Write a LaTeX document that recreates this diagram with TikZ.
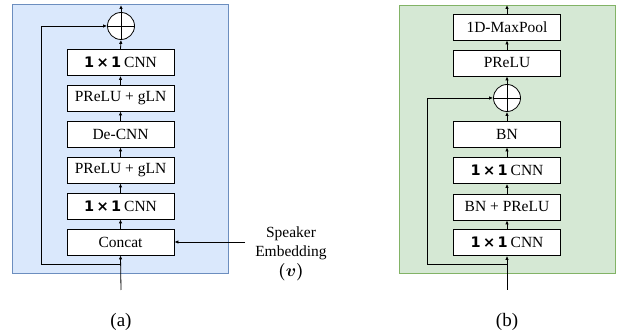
\documentclass[tikz,border=0pt]{standalone}
\usepackage{amsmath}
\usepackage{bm}
\usepackage{fontspec}
\setmainfont{Liberation Serif}
\newfontfamily\dejavu{DejaVu Sans}
\usetikzlibrary{arrows.meta, calc}
\definecolor{panelA}{RGB}{218,232,252}
\definecolor{panelAline}{RGB}{108,142,191}
\definecolor{panelB}{RGB}{213,232,212}
\definecolor{panelBline}{RGB}{130,179,102}
\newcommand{\onebyone}{{\dejavu\bfseries\fontsize{14.5}{16}\selectfont 1\,×\,1}}

\begin{document}
\begin{tikzpicture}[x=1pt, y=-1pt,
    block/.style={draw, fill=white, line width=0.8pt, minimum width=107pt, minimum height=26pt, inner sep=0pt, font=\fontsize{15.5}{18}\selectfont},
    adder/.style={draw, fill=white, circle, line width=0.8pt, minimum size=27pt, inner sep=0pt},
    link/.style={->, line width=0.8pt},
    >={Latex[length=4pt,width=3.5pt]}]
\useasboundingbox (0,0) rectangle (625,336);

% panel (a)
\fill[panelA, draw=panelAline, line width=0.8pt] (12,4) rectangle (228,273);
\node(suma)[adder] at (121,26) {};
\draw[line width=0.8pt] (suma.north) -- (suma.south) (suma.west) -- (suma.east);
\node(cnnTopA)[block] at (120.5,62.5) {\onebyone\hspace{3pt}CNN};
\node(actTopA)[block] at (120.5,98) {PReLU + gLN};
\node(decnn)[block] at (120.5,134) {De-CNN};
\node(actBotA)[block] at (120.5,170) {PReLU + gLN};
\node(cnnBotA)[block] at (120.5,206) {\onebyone\hspace{3pt}CNN};
\node(concat)[block] at (120.5,242) {Concat};
\coordinate (ina) at (121,290);
\coordinate (skipa) at (121,264);
\coordinate (outa) at (121,5);
\coordinate (spk) at (245,242);
\node(spklabel)[align=center, anchor=north, font=\fontsize{15.5}{19}\selectfont] at (291,223) {Speaker\\Embedding\\[1pt]{\fontsize{17}{19}\selectfont$\bm{(v)}$}};

\draw[link] (ina) -- (concat.south);
\draw[link] (skipa) -- ++(-80,0) |- (suma.west);
\draw[link] (concat.north) -- (cnnBotA.south);
\draw[link] (cnnBotA.north) -- (actBotA.south);
\draw[link] (actBotA.north) -- (decnn.south);
\draw[link] (decnn.north) -- (actTopA.south);
\draw[link] (actTopA.north) -- (cnnTopA.south);
\draw[link] (cnnTopA.north) -- (suma.south);
\draw[link] (suma.north) -- (outa);
\draw[link] (spk) -- (concat.east);

% panel (b)
\fill[panelB, draw=panelBline, line width=0.8pt] (399,5) rectangle (615,273);
\node(pool)[block] at (507,27) {1D-MaxPool};
\node(prelu)[block] at (507,63) {PReLU};
\node(sumb)[adder] at (507,98) {};
\draw[line width=0.8pt] (sumb.north) -- (sumb.south) (sumb.west) -- (sumb.east);
\node(bn)[block] at (507,134) {BN};
\node(cnnTopB)[block] at (507,170.5) {\onebyone\hspace{3pt}CNN};
\node(bnact)[block] at (507,207) {BN + PReLU};
\node(cnnBotB)[block] at (507,242.5) {\onebyone\hspace{3pt}CNN};
\coordinate (inb) at (507,290);
\coordinate (skipb) at (507,264);
\coordinate (outb) at (507,5);

\draw[link] (inb) -- (cnnBotB.south);
\draw[link] (skipb) -- ++(-80,0) |- (sumb.west);
\draw[link] (cnnBotB.north) -- (bnact.south);
\draw[link] (bnact.north) -- (cnnTopB.south);
\draw[link] (cnnTopB.north) -- (bn.south);
\draw[link] (bn.north) -- (sumb.south);
\draw[link] (sumb.north) -- (prelu.south);
\draw[link] (prelu.north) -- (pool.south);
\draw[link] (pool.north) -- (outb);

% captions
\node(capa)[font=\fontsize{19}{21}\selectfont] at (121,322) {(a)};
\node(capb)[font=\fontsize{19}{21}\selectfont] at (507,322) {(b)};
\end{tikzpicture}
\end{document}
